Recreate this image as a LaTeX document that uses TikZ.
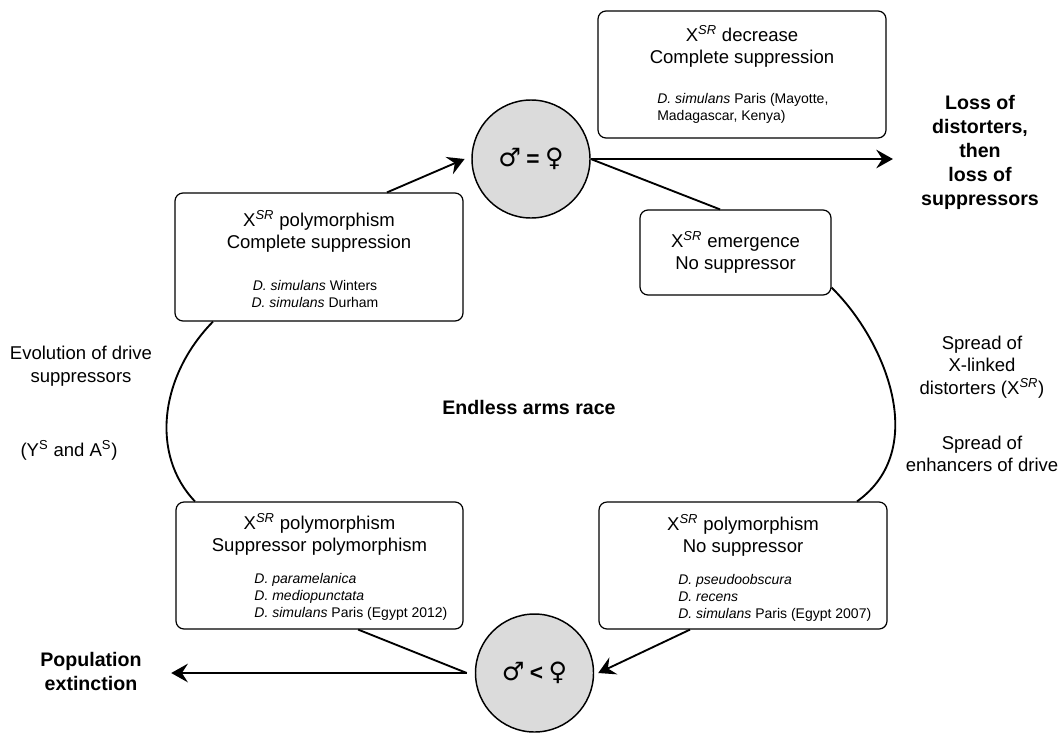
\documentclass[tikz,border=0pt]{standalone}
\usepackage{fontspec}
\setmainfont{Liberation Sans}
\newfontfamily\symfont{DejaVu Sans}
\usetikzlibrary{arrows.meta,positioning}

\newcommand{\xsr}{X\textsuperscript{\itshape SR}}
\newcommand{\sexes}[1]{{\symfont\fontsize{19}{22}\selectfont ♂}\hspace{4pt}\textbf{#1}\hspace{4pt}{\symfont\fontsize{19}{22}\selectfont ♀}}

\tikzset{
  stage/.style={draw, rounded corners=6pt, line width=0.9pt, inner sep=0pt},
  ratio/.style={circle, draw, line width=1.1pt, fill=black!14, minimum size=88.5pt,
    inner sep=0pt, font=\fontsize{17}{20}\selectfont},
  ttl/.style={align=center, inner sep=0pt, font=\fontsize{13.9}{16.5}\selectfont},
  spp/.style={align=left, inner sep=0pt, font=\fontsize{10.5}{12.75}\selectfont},
  side/.style={align=center, inner sep=0pt, font=\fontsize{13.9}{16.9}\selectfont},
  fate/.style={align=center, inner sep=0pt, font=\fontsize{14.7}{18}\selectfont\bfseries},
  flow/.style={line width=1.4pt},
  arr/.style={flow, -{Stealth[length=12.5pt, width=14pt, inset=4.5pt]}},
}

\begin{document}
\begin{tikzpicture}[x=0.75pt, y=-0.75pt]
  \useasboundingbox (0,0) rectangle (1059,732);

  % sex ratio circles
  \node[ratio] (mf1) at (531,159) {\sexes{=}};
  \node[ratio] (mf2) at (534.5,673) {\sexes{<}};
  \coordinate (mf2in) at ([xshift=-6pt]mf2.west);

  % top left stage
  \node[stage, minimum width=216pt, minimum height=96pt] (poly1) at (319,257) {};
  \node[ttl] (poly1t) at ([yshift=19.5pt]poly1.center) {\xsr{} polymorphism\\Complete suppression};
  \node[spp, align=center] (poly1s) at ([xshift=-3pt,yshift=-27.75pt]poly1.center)
    {\textit{D. simulans} Winters\\\textit{D. simulans} Durham};

  % top right stage
  \node[stage, minimum width=216pt, minimum height=95.25pt] (dec) at (742,74.5) {};
  \node[ttl] (dect) at ([yshift=21.4pt]dec.center) {\xsr{} decrease\\Complete suppression};
  \node[spp, anchor=west] (decs) at ([xshift=-63.75pt,yshift=-25.5pt]dec.center)
    {\textit{D. simulans} Paris (Mayotte,\\Madagascar, Kenya)};

  % emergence
  \node[stage, ttl, minimum width=143.25pt, minimum height=63.75pt] (emerg) at (735.5,252.5)
    {\xsr{} emergence\\No suppressor};

  % bottom right stage
  \node[stage, minimum width=216pt, minimum height=95.25pt] (nosup) at (743,565.5) {};
  \node[ttl] (nosupt) at ([yshift=22.9pt]nosup.center) {\xsr{} polymorphism\\No suppressor};
  \node[spp, anchor=west] (nosups) at ([xshift=-48.75pt,yshift=-24.4pt]nosup.center)
    {\textit{D. pseudoobscura}\\\textit{D. recens}\\\textit{D. simulans} Paris (Egypt 2007)};

  % bottom left stage
  \node[stage, minimum width=215.25pt, minimum height=95.25pt] (supp) at (319.5,565.5) {};
  \node[ttl] (suppt) at ([yshift=23.6pt]supp.center) {\xsr{} polymorphism\\Suppressor polymorphism};
  \node[spp, anchor=west] (supps) at ([xshift=-49pt,yshift=-23.6pt]supp.center)
    {\textit{D. paramelanica}\\\textit{D. mediopunctata}\\\textit{D. simulans} Paris (Egypt 2012)};

  % labels
  \node[side] (evo) at (81,366) {Evolution of drive\\suppressors};
  \node[side] (ysas) at (69,450) {(Y\textsuperscript{S} and A\textsuperscript{S})};
  \node[side] (xlink) at (982,367) {Spread of\\X-linked\\distorters (\xsr)};
  \node[side] (enh) at (982,454) {Spread of\\enhancers of drive};
  \node[fate] (race) at (529,407) {Endless arms race};
  \node[fate] (loss) at (980,152) {Loss of\\distorters,\\then\\loss of\\suppressors};
  \node[fate] (ext) at (91,671) {Population\\extinction};

  % the cycle
  \draw[arr] ([xshift=51pt]poly1.north) -- ([xshift=-5pt]mf1.west);
  \draw[flow] (mf1.east) -- ([xshift=-11.6pt]emerg.north);
  \draw[flow] ([yshift=6pt]emerg.south east) .. controls +(54,53) and +(73,-52)
    .. ([xshift=85.5pt]nosup.north);
  \draw[arr] ([xshift=-39.75pt]nosup.south) -- ([xshift=3pt]mf2.east);
  \draw[flow] ([xshift=29pt]supp.south) -- (mf2in);
  \draw[flow] ([xshift=-93.4pt]supp.north) .. controls +(-45,-47) and +(-53,54)
    .. ([xshift=-79.5pt]poly1.south);

  % ways out
  \draw[arr, shorten >=21pt] (mf1.east) -- (mf1.east -| loss.west);
  \draw[arr, shorten >=22pt] (mf2in) -- (mf2in -| ext.east);
\end{tikzpicture}
\end{document}
